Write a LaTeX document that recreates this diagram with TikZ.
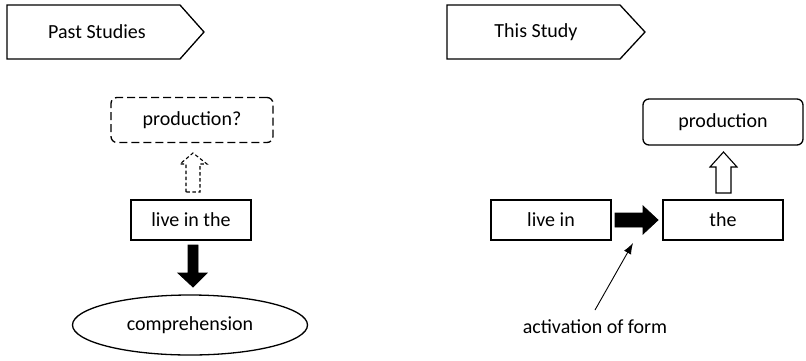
\documentclass[tikz,border=0pt]{standalone}
\usepackage{fontspec}
\setmainfont{Carlito}
\usetikzlibrary{shapes.geometric,arrows.meta}
\tikzset{
  lbl/.style={font=\fontsize{20}{24}\selectfont, inner sep=0pt},
  wbox/.style={lbl, draw, line width=1.3pt, minimum width=120pt, minimum height=40pt},
  pent/.style={draw, line width=1.3pt, line join=miter},
  blockarrow/.style={fill=black, draw=black, line width=0.8pt, line join=miter},
  hollowarrow/.style={fill=white, draw=black, line width=1.1pt, line join=miter},
  dashedarrow/.style={draw=black, line width=1.1pt, dash pattern=on 3.5pt off 2.5pt, line join=miter},
}
\begin{document}
\begin{tikzpicture}[x=1pt,y=-1pt]
\useasboundingbox (0,0) rectangle (806,360);
% headers
\draw[pent] (7,5) -- (180,5) -- (204,32) -- (180,59) -- (7,59) -- cycle;
\node[lbl] (past) at (97,32) {Past Studies};
\draw[pent] (447,5) -- (620,5) -- (645,32) -- (620,59) -- (447,59) -- cycle;
\node[lbl] (this) at (536,32) {This Study};
% left side
\node[lbl, draw, line width=1.3pt, dash pattern=on 8pt off 4pt, rounded corners=6pt,
      minimum width=162pt, minimum height=45pt] (prodq) at (192,120) {production?};
\node[wbox] (lit) at (191,220) {live in the};
\node[lbl, draw, ellipse, line width=1.3pt, minimum width=235pt, minimum height=60pt] (comp) at (190,325) {comprehension};
\draw[dashedarrow] (186,192) -- (186,164) -- (180,164) -- (193,153) -- (207,164) -- (200,164) -- (200,192) -- cycle;
\draw[blockarrow] (188,245) -- (198,245) -- (198,273) -- (207,273) -- (193,287) -- (178,273) -- (188,273) -- cycle;
% right side
\node[lbl, draw, line width=1.3pt, rounded corners=6pt,
      minimum width=160pt, minimum height=46pt] (prod) at (723,122) {production};
\node[wbox] (livein) at (551,220) {live in};
\node[wbox] (the) at (723,220) {the};
\draw[blockarrow] (615,213) -- (643,213) -- (643,206) -- (658,220) -- (643,234) -- (643,227) -- (615,227) -- cycle;
\draw[hollowarrow] (716,193) -- (716,167) -- (710,167) -- (723.5,152) -- (737,167) -- (731,167) -- (731,193) -- cycle;
\node[lbl] (act) at (595,327) {activation of form};
\coordinate (tail) at (595,310);
\coordinate (tip) at (633,243);
\draw[line width=0.9pt, -{Latex[length=11pt,width=8pt]}] (tail) -- (tip);
\end{tikzpicture}
\end{document}
